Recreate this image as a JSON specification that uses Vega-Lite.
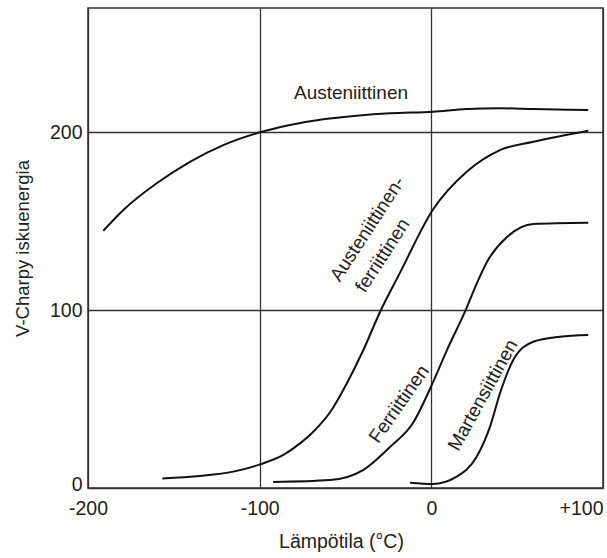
{
  "$schema": "https://vega.github.io/schema/vega-lite/v6.json",
  "width": 515,
  "height": 480,
  "autosize": "none",
  "padding": {"left": 88, "top": 8, "right": 4, "bottom": 70},
  "background": "white",
  "config": {
    "view": {"stroke": "#333", "strokeWidth": 1.5},
    "font": "Liberation Sans"
  },
  "encoding": {
    "x": {
      "field": "t", "type": "quantitative",
      "scale": {"domain": [-200, 100], "nice": false, "zero": false},
      "axis": {
        "title": "Lämpötila (°C)",
        "values": [-200, -100, 0, 100],
        "ticks": false, "domain": false,
        "grid": true, "gridColor": "#333", "gridWidth": 1.3, "gridOpacity": 1,
        "labelFont": "Liberation Sans", "labelFontSize": 19.5, "labelColor": "#222",
        "labelPadding": 11, "labelOverlap": false, "labelFlush": false,
        "labelExpr": "datum.value > 0 ? '+' + datum.value : '' + datum.value",
        "labelAlign": {"condition": {"test": "datum.value == 100", "value": "right"}, "value": "center"},
        "titleFont": "Liberation Sans", "titleFontSize": 19.5, "titleFontWeight": "normal", "titleColor": "#222",
        "titleX": 253, "titleY": 53, "titleBaseline": "middle", "titleAlign": "center"
      }
    },
    "y": {
      "field": "e", "type": "quantitative",
      "scale": {"domain": [0, 270], "nice": false, "zero": true},
      "axis": {
        "title": "V-Charpy iskuenergia",
        "values": [0, 100, 200],
        "ticks": false, "domain": false,
        "grid": true, "gridColor": "#333", "gridWidth": 1.3, "gridOpacity": 1,
        "labelFont": "Liberation Sans", "labelFontSize": 19.5, "labelColor": "#222",
        "labelPadding": 6, "labelOverlap": false, "labelFlush": false,
        "labelOffset": {"condition": {"test": "datum.value == 0", "value": -4}, "value": 0},
        "titleFont": "Liberation Sans", "titleFontSize": 18.5, "titleFontWeight": "normal", "titleColor": "#222",
        "titleX": -66, "titleY": 240, "titleBaseline": "middle", "titleAlign": "center", "titleAngle": -90
      }
    }
  },
  "layer": [
    {
      "data": {"values": [
        {"series": "Austeniittinen", "t": -191.1, "e": 144.7},
        {"series": "Austeniittinen", "t": -179.4, "e": 156.4},
        {"series": "Austeniittinen", "t": -160.0, "e": 171.4},
        {"series": "Austeniittinen", "t": -140.6, "e": 183.5},
        {"series": "Austeniittinen", "t": -121.2, "e": 192.9},
        {"series": "Austeniittinen", "t": -99.8, "e": 200.1},
        {"series": "Austeniittinen", "t": -82.3, "e": 204.2},
        {"series": "Austeniittinen", "t": -62.9, "e": 207.4},
        {"series": "Austeniittinen", "t": -43.5, "e": 209.4},
        {"series": "Austeniittinen", "t": -24.1, "e": 210.8},
        {"series": "Austeniittinen", "t": 1.1, "e": 211.7},
        {"series": "Austeniittinen", "t": 20.6, "e": 213.2},
        {"series": "Austeniittinen", "t": 40.0, "e": 213.6},
        {"series": "Austeniittinen", "t": 59.2, "e": 213.2},
        {"series": "Austeniittinen", "t": 91.4, "e": 212.6},
        {"series": "Austeniittinen-ferriittinen", "t": -156.7, "e": 5.4},
        {"series": "Austeniittinen-ferriittinen", "t": -134.8, "e": 6.8},
        {"series": "Austeniittinen-ferriittinen", "t": -115.4, "e": 9.2},
        {"series": "Austeniittinen-ferriittinen", "t": -99.8, "e": 13.3},
        {"series": "Austeniittinen-ferriittinen", "t": -86.2, "e": 18.6},
        {"series": "Austeniittinen-ferriittinen", "t": -76.5, "e": 25.1},
        {"series": "Austeniittinen-ferriittinen", "t": -68.9, "e": 31.5},
        {"series": "Austeniittinen-ferriittinen", "t": -58.0, "e": 44.0},
        {"series": "Austeniittinen-ferriittinen", "t": -49.1, "e": 59.1},
        {"series": "Austeniittinen-ferriittinen", "t": -39.6, "e": 77.6},
        {"series": "Austeniittinen-ferriittinen", "t": -29.9, "e": 99.0},
        {"series": "Austeniittinen-ferriittinen", "t": -18.3, "e": 121.0},
        {"series": "Austeniittinen-ferriittinen", "t": 0.8, "e": 156.4},
        {"series": "Austeniittinen-ferriittinen", "t": 20.6, "e": 177.9},
        {"series": "Austeniittinen-ferriittinen", "t": 40.0, "e": 190.1},
        {"series": "Austeniittinen-ferriittinen", "t": 59.4, "e": 194.8},
        {"series": "Austeniittinen-ferriittinen", "t": 91.4, "e": 201.0},
        {"series": "Ferriittinen", "t": -92.2, "e": 3.4},
        {"series": "Ferriittinen", "t": -59.0, "e": 4.5},
        {"series": "Ferriittinen", "t": -39.8, "e": 10.1},
        {"series": "Ferriittinen", "t": -24.1, "e": 23.1},
        {"series": "Ferriittinen", "t": -10.7, "e": 36.6},
        {"series": "Ferriittinen", "t": 0.8, "e": 59.1},
        {"series": "Ferriittinen", "t": 9.1, "e": 77.6},
        {"series": "Ferriittinen", "t": 19.6, "e": 99.2},
        {"series": "Ferriittinen", "t": 26.0, "e": 114.0},
        {"series": "Ferriittinen", "t": 32.3, "e": 127.0},
        {"series": "Ferriittinen", "t": 43.9, "e": 141.0},
        {"series": "Ferriittinen", "t": 59.4, "e": 148.5},
        {"series": "Ferriittinen", "t": 91.4, "e": 149.2},
        {"series": "Martensiittinen", "t": -12.4, "e": 3.0},
        {"series": "Martensiittinen", "t": 0.8, "e": 2.3},
        {"series": "Martensiittinen", "t": 14.8, "e": 6.4},
        {"series": "Martensiittinen", "t": 26.4, "e": 17.6},
        {"series": "Martensiittinen", "t": 34.2, "e": 34.5},
        {"series": "Martensiittinen", "t": 40.0, "e": 53.3},
        {"series": "Martensiittinen", "t": 47.7, "e": 72.0},
        {"series": "Martensiittinen", "t": 59.4, "e": 82.3},
        {"series": "Martensiittinen", "t": 74.9, "e": 85.1},
        {"series": "Martensiittinen", "t": 91.4, "e": 86.1}
      ]},
      "mark": {"type": "line", "interpolate": "monotone", "color": "#111", "strokeWidth": 2},
      "encoding": {"detail": {"field": "series", "type": "nominal"}}
    },
    {
      "data": {"values": [
        {"label": "Austeniittinen", "t": -46.8, "e": 222.2}
      ]},
      "mark": {"type": "text", "font": "Liberation Sans", "fontSize": 19, "color": "#222", "align": "center", "baseline": "middle"},
      "encoding": {"text": {"field": "label", "type": "nominal"}}
    },
    {
      "data": {"values": [
        {"label": "Austeniittinen-", "t": -37.2, "e": 145.7},
        {"label": "ferriittinen", "t": -28.4, "e": 130.8}
      ]},
      "mark": {"type": "text", "font": "Liberation Sans", "fontSize": 19, "color": "#222", "align": "center", "baseline": "middle", "angle": 303},
      "encoding": {"text": {"field": "label", "type": "nominal"}}
    },
    {
      "data": {"values": [
        {"label": "Ferriittinen", "t": -18.8, "e": 47.2}
      ]},
      "mark": {"type": "text", "font": "Liberation Sans", "fontSize": 19, "color": "#222", "align": "center", "baseline": "middle", "angle": 305},
      "encoding": {"text": {"field": "label", "type": "nominal"}}
    },
    {
      "data": {"values": [
        {"label": "Martensiittinen", "t": 30.1, "e": 52.3}
      ]},
      "mark": {"type": "text", "font": "Liberation Sans", "fontSize": 19, "color": "#222", "align": "center", "baseline": "middle", "angle": 299},
      "encoding": {"text": {"field": "label", "type": "nominal"}}
    }
  ]
}
